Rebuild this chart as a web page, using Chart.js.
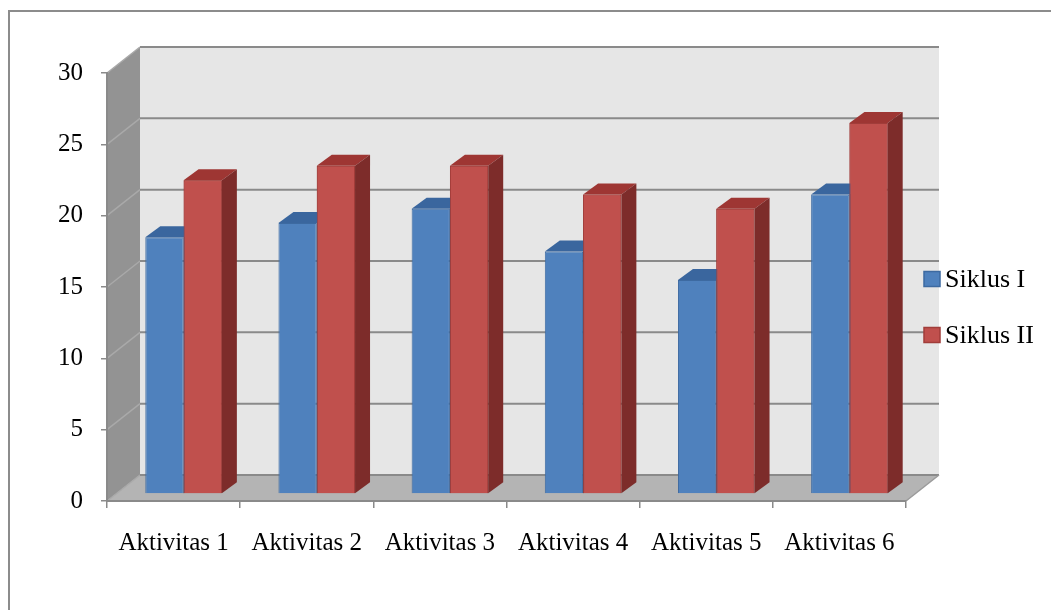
<!DOCTYPE html>
<html>
<head>
<meta charset="utf-8">
<title>Siklus I dan Siklus II</title>
<script src="https://cdn.jsdelivr.net/npm/chart.js@4.4.1/dist/chart.umd.min.js"></script>
<style>
  html, body { margin: 0; padding: 0; background: #ffffff; }
  #wrap { position: relative; width: 1051px; height: 610px; }
</style>
</head>
<body>
<div id="wrap"><canvas id="chart" width="1051" height="610"></canvas></div>
<script>
// Data
const categories = ['Aktivitas 1', 'Aktivitas 2', 'Aktivitas 3', 'Aktivitas 4', 'Aktivitas 5', 'Aktivitas 6'];
const siklusI = [18, 19, 20, 17, 15, 21];
const siklusII = [22, 23, 23, 21, 20, 26];
const seriesNames = ['Siklus I', 'Siklus II'];
const yTickValues = [0, 5, 10, 15, 20, 25, 30];

// Pseudo-3D geometry (pixels)
const WALL_DX = 33, WALL_DY = 26;        // depth of the walls/floor
const BAR_SHIFT_X = 10, BAR_SHIFT_Y = 7; // bars sit a little behind the front plane
const BAR_DX = 15, BAR_DY = 11;          // depth of each bar

const FONT = 'Liberation Serif, "Times New Roman", serif';
const GRID = '#8a8a8a';

const faceColors = [
  { front: '#4f81bd', border: '#3d6aa1', top: '#3a669e', side: '#2f5585' },
  { front: '#c0504d', border: '#a13d3a', top: '#9e3633', side: '#7d2c2a' }
];

function drawBarFaces(ctx, meta, c) {
  meta.data.forEach(bar => {
    const p = bar.getProps(['x', 'y', 'base', 'width'], true);
    const x0 = p.x - p.width / 2, x1 = p.x + p.width / 2;
    // top face
    ctx.fillStyle = c.top;
    ctx.beginPath();
    ctx.moveTo(x0, p.y); ctx.lineTo(x1, p.y);
    ctx.lineTo(x1 + BAR_DX, p.y - BAR_DY); ctx.lineTo(x0 + BAR_DX, p.y - BAR_DY);
    ctx.closePath(); ctx.fill();
    // side face
    ctx.fillStyle = c.side;
    ctx.beginPath();
    ctx.moveTo(x1, p.y); ctx.lineTo(x1 + BAR_DX, p.y - BAR_DY);
    ctx.lineTo(x1 + BAR_DX, p.base - BAR_DY); ctx.lineTo(x1, p.base);
    ctx.closePath(); ctx.fill();
  });
}

const threeD = {
  id: 'threeD',
  beforeDraw(chart) {
    const ctx = chart.ctx;
    const a = chart.chartArea;
    const ys = chart.scales.y;
    const L = a.left, R = a.right;
    const T = ys.getPixelForValue(yTickValues[yTickValues.length - 1]);
    const B = ys.getPixelForValue(0);
    ctx.save();
    // outer frame
    ctx.strokeStyle = '#8c8c8c';
    ctx.lineWidth = 2;
    ctx.beginPath();
    ctx.moveTo(9, chart.height);
    ctx.lineTo(9, 11);
    ctx.lineTo(chart.width, 11);
    ctx.stroke();

    // back wall
    ctx.fillStyle = '#e6e6e6';
    ctx.fillRect(L + WALL_DX, T - WALL_DY, R - L, B - T);
    // side wall
    ctx.fillStyle = '#939393';
    ctx.beginPath();
    ctx.moveTo(L, T); ctx.lineTo(L + WALL_DX, T - WALL_DY);
    ctx.lineTo(L + WALL_DX, B - WALL_DY); ctx.lineTo(L, B);
    ctx.closePath(); ctx.fill();
    // floor
    ctx.fillStyle = '#b4b4b4';
    ctx.beginPath();
    ctx.moveTo(L, B); ctx.lineTo(L + WALL_DX, B - WALL_DY);
    ctx.lineTo(R + WALL_DX, B - WALL_DY); ctx.lineTo(R, B);
    ctx.closePath(); ctx.fill();

    // grid lines on back and side walls
    yTickValues.forEach(v => {
      const y = ys.getPixelForValue(v);
      ctx.strokeStyle = '#a9a9a9';
      ctx.lineWidth = 1.5;
      ctx.beginPath();
      ctx.moveTo(L, y); ctx.lineTo(L + WALL_DX, y - WALL_DY);
      ctx.stroke();
      ctx.strokeStyle = GRID;
      ctx.lineWidth = 2;
      ctx.beginPath();
      ctx.moveTo(L + WALL_DX, y - WALL_DY); ctx.lineTo(R + WALL_DX, y - WALL_DY);
      ctx.stroke();
    });
    // floor right edge
    ctx.strokeStyle = '#9a9a9a';
    ctx.lineWidth = 1.5;
    ctx.beginPath();
    ctx.moveTo(R, B); ctx.lineTo(R + WALL_DX, B - WALL_DY);
    ctx.stroke();
    ctx.restore();
  },
  beforeDatasetsDraw(chart) {
    chart.ctx.save();
    chart.ctx.translate(BAR_SHIFT_X, -BAR_SHIFT_Y);
  },
  afterDatasetsDraw(chart) {
    const ctx = chart.ctx;
    // left-to-right: each series' depth faces, then the next series' fronts cover what they hide
    chart.data.datasets.forEach((ds, i) => {
      const meta = chart.getDatasetMeta(i);
      if (i > 0) meta.data.forEach(el => el.draw(ctx, chart.chartArea));
      drawBarFaces(ctx, meta, faceColors[i]);
    });
    ctx.restore();
  },
  afterDraw(chart) {
    // legend
    const ctx = chart.ctx;
    ctx.save();
    ctx.font = '26px ' + FONT;
    ctx.textBaseline = 'middle';
    ctx.textAlign = 'left';
    const rows = [279, 335];
    chart.data.datasets.forEach((ds, i) => {
      const cy = rows[i];
      ctx.fillStyle = faceColors[i].front;
      ctx.fillRect(924, cy - 7.5, 16, 15);
      ctx.strokeStyle = faceColors[i].border;
      ctx.lineWidth = 1.5;
      ctx.strokeRect(924, cy - 7.5, 16, 15);
      ctx.fillStyle = '#000000';
      ctx.fillText(ds.label, 945, cy + 1);
    });
    ctx.restore();
  }
};

new Chart(document.getElementById('chart'), {
  type: 'bar',
  data: {
    labels: categories,
    datasets: [
      { label: seriesNames[0], data: siklusI, backgroundColor: faceColors[0].front,
        borderColor: faceColors[0].border, borderWidth: 1, clip: false },
      { label: seriesNames[1], data: siklusII, backgroundColor: faceColors[1].front,
        borderColor: faceColors[1].border, borderWidth: 1, clip: false }
    ]
  },
  options: {
    responsive: false,
    devicePixelRatio: 1,
    animation: false,
    events: [],
    categoryPercentage: 0.575,
    barPercentage: 1.0,
    layout: { padding: { top: 73, right: 145, bottom: 0, left: 0 } },
    plugins: { legend: { display: false }, tooltip: { enabled: false } },
    scales: {
      x: {
        offset: true,
        grid: { offset: true, drawOnChartArea: false, drawTicks: true, tickLength: 7, color: GRID, lineWidth: 1.5 },
        border: { display: true, color: GRID, width: 2 },
        ticks: { font: { family: FONT, size: 25 }, color: '#000000', maxRotation: 0, autoSkip: false, padding: 20 },
        afterFit: s => { s.height = 109; }
      },
      y: {
        min: 0, max: 30,
        afterBuildTicks: s => { s.ticks = yTickValues.map(v => ({ value: v })); },
        grid: { drawOnChartArea: false, drawTicks: true, tickLength: 6, color: GRID, lineWidth: 1.5 },
        border: { display: true, color: GRID, width: 2 },
        ticks: { font: { family: FONT, size: 25 }, color: '#000000', padding: 18 },
        afterFit: s => { s.width = 107; }
      }
    }
  },
  plugins: [threeD]
});
</script>
</body>
</html>
